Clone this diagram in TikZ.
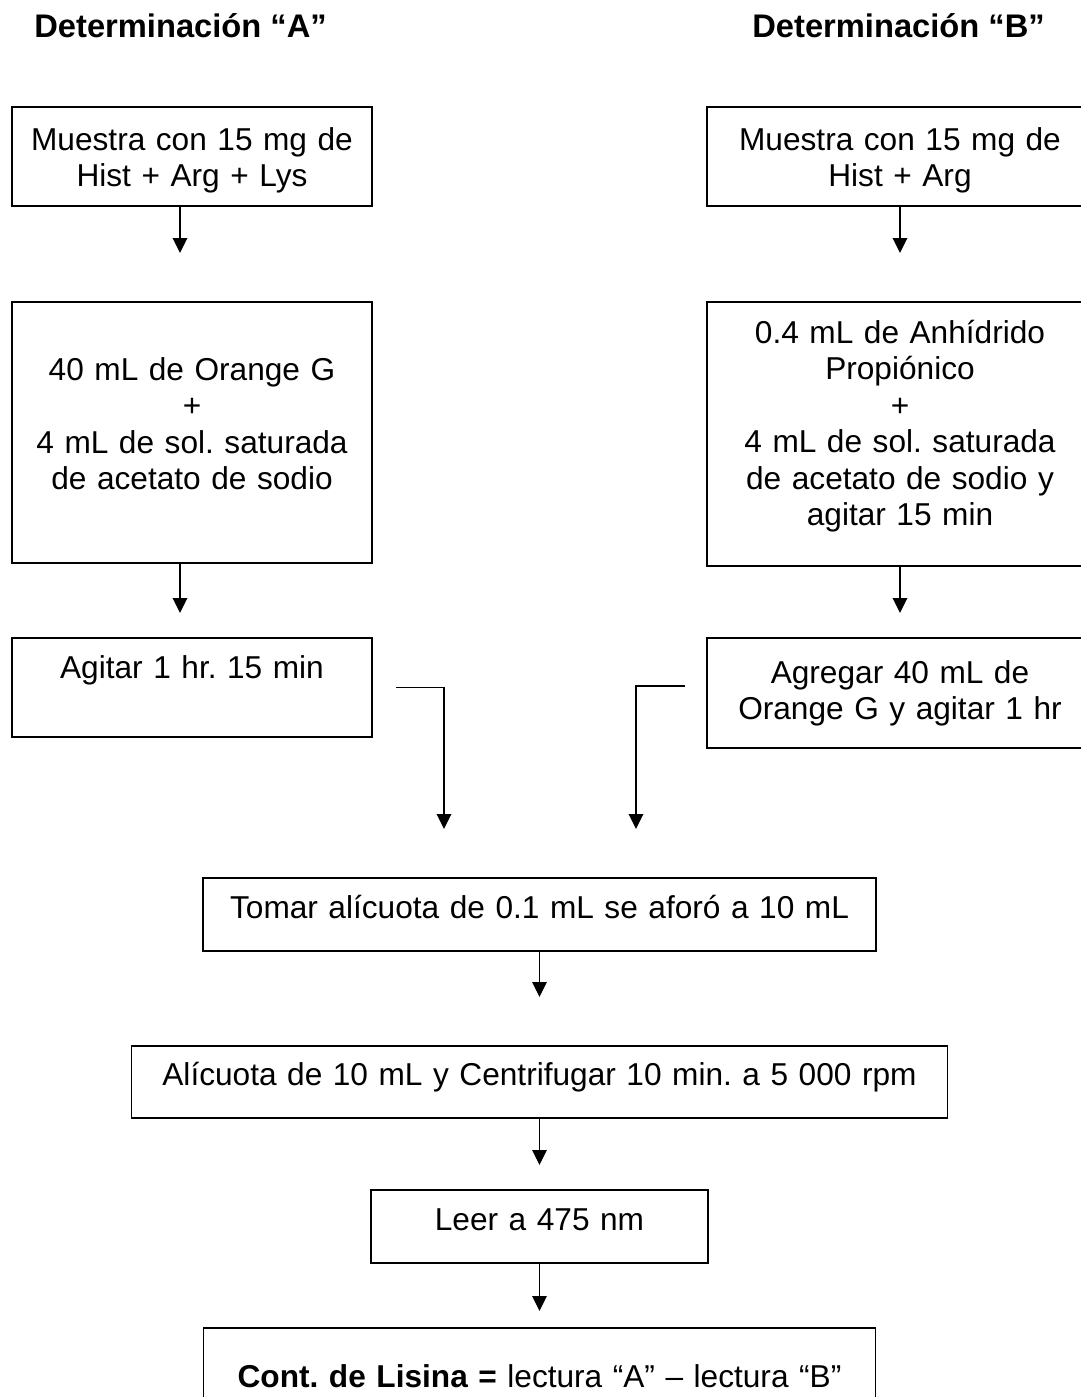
\documentclass[tikz,border=0pt]{standalone}
\usepackage{fontspec}
\setmainfont{Liberation Sans}
\usetikzlibrary{
    arrows.meta,
    positioning
}
\frenchspacing

\begin{document}
\begin{tikzpicture}[
        box/.style={
            draw,
            line width=0.8pt,
            inner sep=0pt,
            outer sep=0pt,
            align=center,
            font=\fontsize{18}{20.8}\selectfont
        },
        colA/.style={
            box,
            text width=7.2cm
        },
        colB/.style={
            box,
            text width=7.72cm
        },
        title/.style={
            font=\fontsize{18.6}{20.8}\selectfont\bfseries,
            inner sep=0pt,
            anchor=base west
        },
        arrow/.style={
            -{Triangle[length=0.3cm, width=0.29cm]},
            line width=0.7pt
        }
    ]
    \useasboundingbox (0,0) rectangle (21.62,-27.94);

    \node[title] (titA) at (0.68,-0.74) {Determinación “A”};
    \node[title] (titB) at (15.04,-0.74) {Determinación “B”};

    % determinacion A
    \node[colA, anchor=north, text height=0.86cm, text depth=1.12cm] (a1) at (3.84,-2.14) {
        Muestra con 15 mg de\\ Hist + Arg + Lys
    };

    \node[colA, below=1.92cm of a1, text height=1.56cm, text depth=3.66cm] (a2) {
        40 mL de Orange G\\ +\\ 4 mL de sol. saturada\\ de acetato de sodio
    };

    \node[colA, below=1.5cm of a2, text height=0.8cm, text depth=1.18cm] (a3) {
        Agitar 1 hr. 15 min
    };

    % determinacion B
    \node[colB, anchor=north, text height=0.86cm, text depth=1.12cm] (b1) at (18.0,-2.14) {
        Muestra con 15 mg de\\ Hist + Arg
    };

    \node[colB, below=1.92cm of b1, text height=0.82cm, text depth=4.46cm] (b2) {
        0.4 mL de Anhídrido\\ Propiónico\\ +\\ 4 mL de sol. saturada\\ de acetato de sodio y\\ agitar 15 min
    };

    \node[colB, below=1.44cm of b2, text height=0.9cm, text depth=1.3cm] (b3) {
        Agregar 40 mL de\\ Orange G y agitar 1 hr
    };

    % pasos comunes
    \node[box, anchor=north, text width=13.46cm, text height=0.8cm, text depth=0.66cm] (c) at (10.79,-17.56) {
        Tomar alícuota de 0.1 mL se aforó a 10 mL
    };

    \node[box, below=1.9cm of c, text width=16.32cm, text height=0.78cm, text depth=0.66cm] (d) {
        Alícuota de 10 mL y Centrifugar 10 min. a 5 000 rpm
    };

    \node[box, below=1.44cm of d, text width=6.74cm, text height=0.8cm, text depth=0.66cm] (e) {
        Leer a 475 nm
    };

    \node[box, below=1.3cm of e, text width=13.44cm, text height=1.18cm, text depth=1.0cm] (f) {
        \textbf{Cont. de Lisina =} lectura “A” – lectura “B”
    };

    % extremos libres de las flechas
    \coordinate (a1end) at ([shift={(-0.24,-0.94)}]a1.south);
    \coordinate (a2end) at ([shift={(-0.24,-1.0)}]a2.south);
    \coordinate (b1end) at ([yshift=-0.94cm]b1.south);
    \coordinate (b2end) at ([yshift=-0.94cm]b2.south);
    \coordinate (cend) at ([yshift=-0.92cm]c.south);
    \coordinate (dend) at ([yshift=-0.94cm]d.south);
    \coordinate (eend) at ([yshift=-0.96cm]e.south);

    \coordinate (ja) at ([xshift=0.48cm]a3.east);
    \coordinate (ka) at ([shift={(-1.91,0.98)}]c.north);
    \coordinate (jb) at ([shift={(-0.44,0.14)}]b3.west);
    \coordinate (kb) at ([shift={(1.93,0.98)}]c.north);

    \draw[arrow] (a1end |- a1.south) -- (a1end);
    \draw[arrow] (a2end |- a2.south) -- (a2end);
    \draw[arrow] (b1) -- (b1end);
    \draw[arrow] (b2) -- (b2end);
    \draw[arrow] (ja) -| (ka);
    \draw[arrow] (jb) -| (kb);
    \draw[arrow] (c) -- (cend);
    \draw[arrow] (d) -- (dend);
    \draw[arrow] (e) -- (eend);

\end{tikzpicture}
\end{document}
